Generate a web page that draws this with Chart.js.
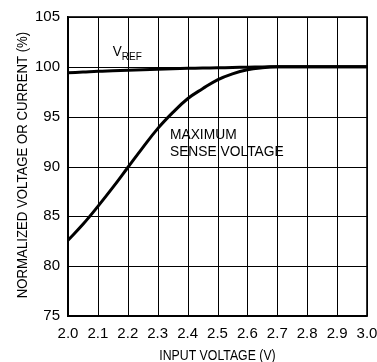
<!DOCTYPE html>
<html>
<head>
<meta charset="utf-8">
<script src="https://cdn.jsdelivr.net/npm/chart.js@4/dist/chart.umd.min.js"></script>
<style>
  html, body { margin: 0; padding: 0; background: #fff; }
  #wrap { width: 377px; height: 362px; }
</style>
</head>
<body>
<div id="wrap"><canvas id="chart" width="377" height="362"></canvas></div>
<script>
const FONT = "'Liberation Sans', Arial, sans-serif";

// input voltage (V)
const entrada = [2.0, 2.05, 2.1, 2.15, 2.2, 2.25, 2.3, 2.35, 2.4, 2.45, 2.5, 2.55, 2.6, 2.65, 2.7, 2.8, 2.9, 3.0];
// VREF (%)
const vref = [99.4, 99.47, 99.55, 99.6, 99.65, 99.7, 99.75, 99.8, 99.85, 99.88, 99.9, 99.94, 99.97, 99.99, 100, 100, 100, 100];
// maximum sense voltage (%)
const senseMax = [82.6, 84.2, 86.0, 87.9, 89.9, 91.9, 93.8, 95.4, 96.8, 97.8, 98.7, 99.3, 99.7, 99.9, 100, 100, 100, 100];

const xMin = 2.0, xMax = 3.0, xPasso = 0.1;
const yMin = 75, yMax = 105, yPasso = 5;

const pontos = (ys) => entrada.map((x, i) => ({ x: x, y: ys[i] }));

// texto condensado (a fonte original e estreita)
function texto(ctx, str, x, y, size, sx, align, rot) {
  ctx.save();
  ctx.translate(x, y);
  if (rot) ctx.rotate(rot);
  ctx.scale(sx, 1);
  ctx.font = size + 'px ' + FONT;
  ctx.textAlign = align || 'left';
  ctx.textBaseline = 'alphabetic';
  ctx.fillStyle = '#000';
  ctx.fillText(str, 0, 0);
  const w = ctx.measureText(str).width * sx;
  ctx.restore();
  return w;
}

// grade desenhada a partir dos ticks das escalas
const grade = {
  id: 'grade',
  beforeDatasetsDraw(chart) {
    const { ctx, chartArea: a, scales: { x, y } } = chart;
    ctx.save();
    ctx.strokeStyle = '#000';
    ctx.lineWidth = 1;
    ctx.beginPath();
    x.ticks.forEach(t => {
      const px = Math.round(x.getPixelForValue(t.value)) + 0.5;
      ctx.moveTo(px, a.top);
      ctx.lineTo(px, a.bottom);
    });
    y.ticks.forEach(t => {
      const py = Math.round(y.getPixelForValue(t.value)) + 0.5;
      ctx.moveTo(a.left, py);
      ctx.lineTo(a.right, py);
    });
    ctx.stroke();
    ctx.restore();
  }
};

const rotulos = {
  id: 'rotulos',
  afterDraw(chart) {
    const { ctx, scales: { x, y } } = chart;
    // VREF
    const vx = x.getPixelForValue(2.15), vy = y.getPixelForValue(101.06);
    const w = texto(ctx, 'V', vx, vy, 15, 0.9);
    texto(ctx, 'REF', vx + w, vy + 4, 10, 1);
    // maximum sense voltage
    texto(ctx, 'MAXIMUM', x.getPixelForValue(2.341), y.getPixelForValue(92.76), 15, 0.92);
    texto(ctx, 'SENSE VOLTAGE', x.getPixelForValue(2.341), y.getPixelForValue(91.01), 15, 0.92);
    // titulos dos eixos
    texto(ctx, 'INPUT VOLTAGE (V)', (x.left + x.right) / 2, 359.5, 15, 0.82, 'center');
    texto(ctx, 'NORMALIZED VOLTAGE OR CURRENT (%)', 26.5, 165, 15, 0.88, 'center', -Math.PI / 2);
    // moldura
    const a = chart.chartArea;
    ctx.save();
    ctx.strokeStyle = '#000';
    ctx.lineWidth = 1.6;
    ctx.strokeRect(a.left, a.top, a.right - a.left, a.bottom - a.top);
    ctx.restore();
  }
};

new Chart(document.getElementById('chart').getContext('2d'), {
  type: 'line',
  data: {
    datasets: [{
      label: 'VREF',
      data: pontos(vref),
      borderColor: '#000',
      borderWidth: 3,
      pointRadius: 0,
      tension: 0.4,
      fill: false
    }, {
      label: 'MAXIMUM SENSE VOLTAGE',
      data: pontos(senseMax),
      borderColor: '#000',
      borderWidth: 3,
      pointRadius: 0,
      tension: 0.4,
      fill: false
    }]
  },
  options: {
    responsive: false,
    animation: false,
    layout: { padding: { left: 0, right: 10, top: 17, bottom: 0 } },
    plugins: { legend: { display: false }, tooltip: { enabled: false } },
    scales: {
      x: {
        type: 'linear',
        min: xMin,
        max: xMax,
        afterFit: (s) => { s.height = 46; s.paddingRight = 0; },
        ticks: {
          stepSize: xPasso,
          color: '#000',
          font: { family: FONT, size: 15 },
          padding: 9,
          maxRotation: 0,
          autoSkip: false,
          callback: (v) => Number(v).toFixed(1)
        },
        grid: { display: true, drawOnChartArea: false, drawTicks: false },
        border: { color: '#000', width: 1.5 }
      },
      y: {
        min: yMin,
        max: yMax,
        afterFit: (s) => { s.width = 68; },
        ticks: {
          stepSize: yPasso,
          color: '#000',
          font: { family: FONT, size: 15 },
          padding: 8
        },
        grid: { display: true, drawOnChartArea: false, drawTicks: false },
        border: { color: '#000', width: 1.5 }
      }
    }
  },
  plugins: [grade, rotulos]
});
</script>
</body>
</html>
